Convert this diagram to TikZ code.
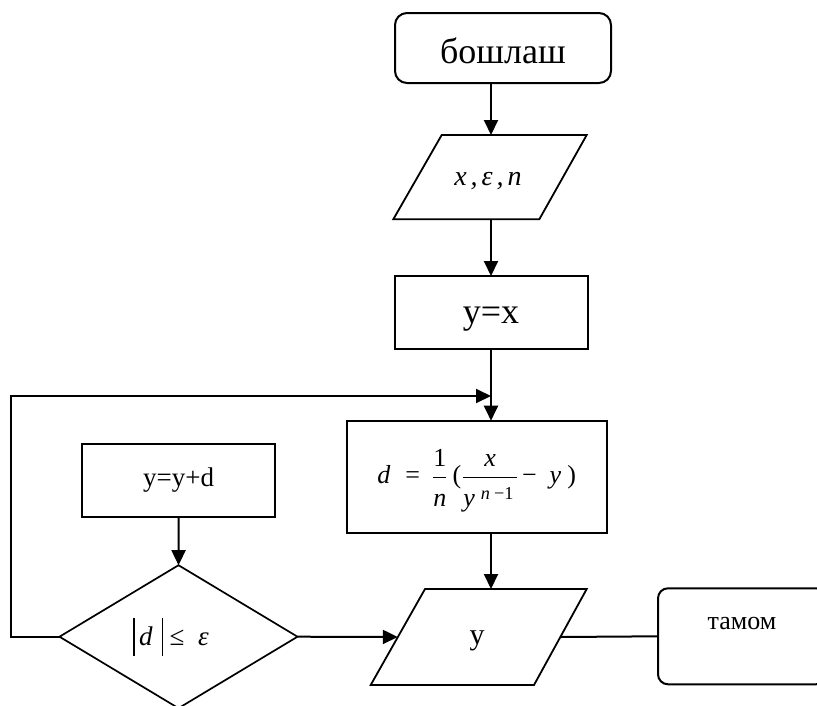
\documentclass[tikz,border=0pt]{standalone}
\usepackage{amsmath}
\usepackage{fontspec}
\setmainfont{Liberation Serif}
\usetikzlibrary{arrows.meta,shapes.geometric}
\newcommand{\lowered}[2]{\raisebox{-#1}[\height][\depth]{#2}}
\begin{document}
\begin{tikzpicture}[x=1pt,y=-1pt,
  line width=2pt,
  arr/.style={-{Triangle[length=15pt,width=14pt]}},
  terminal/.style={draw,rounded corners=12pt,inner sep=0pt,outer sep=0pt},
  procbox/.style={draw,inner sep=0pt,outer sep=0pt},
  decision/.style={draw,diamond,inner sep=0pt,outer sep=0pt,line width=1.7pt},
  iopath/.style={draw,line width=1.8pt,line join=miter}]
\useasboundingbox (0,0) rectangle (817,705);
\coordinate (colx) at (491,0);

% start
\node[terminal,minimum width=216pt,minimum height=70pt,
  font=\fontsize{36}{40}\selectfont] (start) at (503,48) {\lowered{3pt}{бошлаш}};

% input parallelogram
\coordinate (inpA) at (441.7,135);
\coordinate (inpB) at (586.7,135);
\coordinate (inpC) at (539.3,219.3);
\coordinate (inpD) at (393.3,219.3);
\path[iopath] (inpA) -- (inpB) -- (inpC) -- (inpD) -- cycle;
\coordinate (inptop) at (491,135);
\coordinate (inpbot) at (491,219.3);
\node[font=\fontsize{28}{32}\selectfont\itshape] (inptext) at (488,181)
  {x\hspace{4pt},\hspace{4pt}ε\hspace{4pt},\hspace{4pt}n};

% y = x
\node[procbox,minimum width=193pt,minimum height=73pt,
  font=\fontsize{36}{40}\selectfont] (init) at (491,312.5) {\lowered{7pt}{y=x}};

% iteration formula
\node[procbox,minimum width=260pt,minimum height=112pt,
  font=\fontsize{26}{30}\selectfont] (calc) at (476.7,476.7)
  {\lowered{4pt}{$\textit{d}\hspace{15pt}\textrm{=}\hspace{12pt}
    \dfrac{\textrm{1}\rule[-6pt]{0pt}{6pt}}{\rule{0pt}{26pt}\textit{n}}\hspace{5pt}\textrm{(}\hspace{1pt}
    \dfrac{\textit{x}\rule[-6pt]{0pt}{6pt}}{\rule{0pt}{26pt}\textit{y}^{\hspace{6pt}\textit{n}\hspace{4pt}\textrm{−}\textrm{1}}\hspace{3pt}}
    \hspace{4pt}\textrm{−}\hspace{13pt}\textit{y}\hspace{6pt}\textrm{)}$}};

% update
\node[procbox,minimum width=193pt,minimum height=73pt,
  font=\fontsize{27}{30}\selectfont] (upd) at (178.7,480.4) {y=y+d};

% test
\node[decision,minimum width=238pt,minimum height=143pt] (test) at (178.5,636.7) {};
\node[font=\fontsize{27}{30}\selectfont] (testtext) at (171,636.7)
  {\rule[-10pt]{1.3pt}{38pt}\,\textit{d}\,\,\rule[-10pt]{1.3pt}{38pt}\ ≤\ \ \textit{ε}};

% output parallelogram
\coordinate (outA) at (425,589);
\coordinate (outB) at (586.7,589);
\coordinate (outC) at (534,685);
\coordinate (outD) at (370.7,685);
\path[iopath] (outA) -- (outB) -- (outC) -- (outD) -- cycle;
\coordinate (outtop) at (491,589);
\coordinate (outleft) at (397.8,637);
\coordinate (outright) at (560.4,637);
\node[font=\fontsize{30}{34}\selectfont] (outtext) at (477,637) {\lowered{4pt}{y}};

% end
\node[terminal,rounded corners=10pt,minimum width=168pt,minimum height=96pt] (stop) at (742,636.3) {};
\node[font=\fontsize{26}{30}\selectfont] (stoptext) at (742,623) {тамом};

% connectors
\draw[arr] (start.south -| colx) -- (inptop);
\draw[arr] (inpbot) -- (init.north -| colx);
\draw[arr] (init.south -| colx) -- (calc.north -| colx);
\draw[arr] (calc.south -| colx) -- (outtop);
\draw[arr] (upd.south) -- (test.north);
\draw[arr] (test.east) -- (outleft);
\draw (outright) -- (stop.west);
\coordinate (loopin) at (491,396);
\draw[arr] (test.west) -- ++(-48.6,0) |- (loopin);
\end{tikzpicture}
\end{document}
